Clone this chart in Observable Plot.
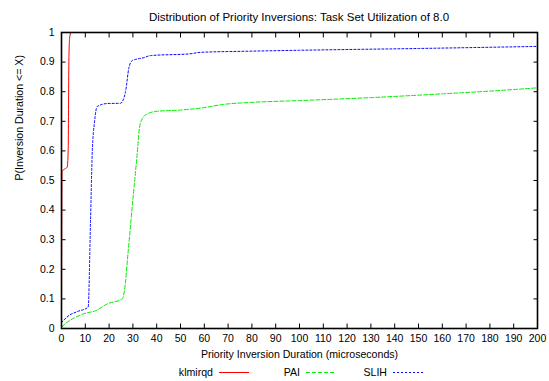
<!DOCTYPE html>
<html>
<head>
<meta charset="utf-8">
<script src="https://cdn.jsdelivr.net/npm/d3@7"></script>
<script src="https://cdn.jsdelivr.net/npm/@observablehq/plot@0.6"></script>
<style>
  html, body { margin: 0; padding: 0; background: #fff; }
  body { width: 549px; height: 381px; overflow: hidden; font-family: "Liberation Sans", Arial, sans-serif; }
  #title { height: 14px; padding-top: 10px; line-height: 14px; font-size: 11.5px; text-align: center; padding-left: 49px; color: #000; white-space: nowrap; }
  #chart svg { display: block; }
  #legend { display: block; }
</style>
</head>
<body>
<div id="title">Distribution of Priority Inversions: Task Set Utilization of 8.0</div>
<div id="chart"></div>
<div id="legendWrap"></div>
<script>
// ---- Data ----
const klmirqdX = [0, 0.2, 1, 2.4, 2.8, 3.1, 3.4, 4, 5];
const klmirqdY = [0, 0.53, 0.537, 0.545, 0.6, 0.9, 0.98, 1, 1];

const paiX = [0, 1.7, 5.2, 9.4, 14.3, 19.2, 25.5, 26.5, 27.9, 29.7, 31.8, 32.8, 34, 36, 40.2, 50, 59.7, 68, 80, 100, 130, 160.5, 180, 200];
const paiY = [0.005, 0.017, 0.035, 0.05, 0.06, 0.083, 0.1, 0.13, 0.25, 0.41, 0.59, 0.68, 0.71, 0.725, 0.734, 0.738, 0.746, 0.757, 0.764, 0.77, 0.78, 0.793, 0.802, 0.813];

const slihX = [0, 3.1, 6.6, 11.2, 12.2, 12.9, 13.9, 15, 19.2, 24.8, 26.9, 28.3, 29.7, 34.6, 37.4, 54, 58.4, 80, 100, 150, 200];
const slihY = [0.02, 0.044, 0.057, 0.072, 0.365, 0.59, 0.70, 0.75, 0.76, 0.761, 0.8, 0.88, 0.905, 0.915, 0.922, 0.928, 0.933, 0.937, 0.94, 0.946, 0.953];

const xTicks = d3.range(0, 201, 10);
const yTicks = [0, 0.1, 0.2, 0.3, 0.4, 0.5, 0.6, 0.7, 0.8, 0.9, 1];

const seriesNames = ["klmirqd", "PAI", "SLIH"];
const seriesColors = ["#ff0000", "#00ee00", "#0000ff"];
const seriesDash = [null, "4,2", "2,2"];

const xLabel = "Priority Inversion Duration (microseconds)";
const yLabel = "P(Inversion Duration <= X)";

// ---- Build tables ----
const toRows = (xs, ys) => xs.map((x, i) => ({x, y: ys[i]}));
const rows = [toRows(klmirqdX, klmirqdY), toRows(paiX, paiY), toRows(slihX, slihY)];

const plot = Plot.plot({
  width: 549,
  height: 338,
  marginTop: 8,
  marginBottom: 34,
  marginLeft: 61,
  marginRight: 12,
  style: {fontFamily: "'Liberation Sans', Arial, sans-serif", fontSize: "10.5px", color: "#000", background: "#fff"},
  x: {domain: [0, 200]},
  y: {domain: [0, 1]},
  marks: [
    // inward ticks on all four sides
    Plot.axisX(xTicks, {anchor: "bottom", tickSize: -4.5, text: null, label: null}),
    Plot.axisX(xTicks, {anchor: "top", tickSize: -4.5, text: null, label: null}),
    Plot.axisY(yTicks, {anchor: "left", tickSize: -4.5, text: null, label: null}),
    Plot.axisY(yTicks, {anchor: "right", tickSize: -4.5, text: null, label: null}),
    // tick labels
    Plot.axisX(xTicks, {anchor: "bottom", tickSize: 0, tickPadding: 6, tickFormat: d => String(d), label: null, fill: "#000"}),
    Plot.axisY(yTicks, {anchor: "left", tickSize: 0, tickPadding: 7, tickFormat: d => String(d), label: null, fill: "#000"}),
    // data lines
    ...rows.map((r, i) => Plot.line(r, {
      x: "x", y: "y", stroke: seriesColors[i], strokeWidth: 1,
      strokeDasharray: seriesDash[i], curve: "monotone-x"
    })),
    Plot.frame({stroke: "#000", strokeWidth: 1.6}),
    // axis titles
    Plot.text([xLabel], {frameAnchor: "bottom", dy: 26, lineAnchor: "middle", fill: "#000", fontSize: 10.6}),
    Plot.text([yLabel], {frameAnchor: "left", rotate: -90, dx: -42, dy: 0, lineAnchor: "middle", fill: "#000", fontSize: 10.6})
  ]
});
document.getElementById("chart").appendChild(plot);

// ---- Legend (below the SVG) ----
const lg = d3.select("#legendWrap").append("svg")
  .attr("id", "legend").attr("width", 549).attr("height", 19)
  .style("font-family", "'Liberation Sans', Arial, sans-serif").style("font-size", "10.6px");
const colW = 87, lineW = 30, startRight = 249;
seriesNames.forEach((name, i) => {
  const lineEnd = startRight + i * colW;
  const lineStart = lineEnd - lineW;
  const g = lg.append("g");
  g.append("text").attr("x", lineStart - 6).attr("y", 14).attr("text-anchor", "end").attr("fill", "#000").text(name);
  g.append("line").attr("x1", lineStart).attr("x2", lineEnd).attr("y1", 10.5).attr("y2", 10.5)
    .attr("stroke", seriesColors[i]).attr("stroke-width", 1)
    .attr("stroke-dasharray", seriesDash[i]);
});
</script>
</body>
</html>
